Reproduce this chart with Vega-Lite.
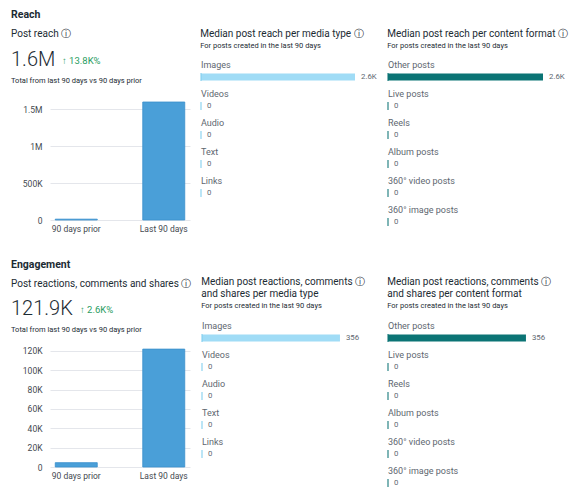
{
  "$schema": "https://vega.github.io/schema/vega-lite/v6.json",
  "background": "white",
  "padding": {"left": 11, "top": 10, "right": 2, "bottom": 2},
  "config": {
    "font": "Roboto",
    "view": {"stroke": null},
    "title": {"anchor": "start", "color": "#1c2b33", "fontWeight": "normal", "frame": "bounds"},
    "axis": {"ticks": false, "domain": false, "labelColor": "#444950", "labelFontSize": 8.5, "gridColor": "#e4e6eb"}
  },
  "datasets": {
    "reach_total": [
      {"period": "90 days prior", "reach": 11500},
      {"period": "Last 90 days", "reach": 1600000}
    ],
    "reach_kpi": [{"total": "1.6M", "change": "↑ 13.8K%"}],
    "reach_media": [
      {"type": "Images", "value": 2600, "label": "2.6K"},
      {"type": "Videos", "value": 0, "label": "0"},
      {"type": "Audio", "value": 0, "label": "0"},
      {"type": "Text", "value": 0, "label": "0"},
      {"type": "Links", "value": 0, "label": "0"}
    ],
    "reach_format": [
      {"format": "Other posts", "value": 2600, "label": "2.6K"},
      {"format": "Live posts", "value": 0, "label": "0"},
      {"format": "Reels", "value": 0, "label": "0"},
      {"format": "Album posts", "value": 0, "label": "0"},
      {"format": "360° video posts", "value": 0, "label": "0"},
      {"format": "360° image posts", "value": 0, "label": "0"}
    ],
    "eng_total": [
      {"period": "90 days prior", "engagement": 4500},
      {"period": "Last 90 days", "engagement": 121900}
    ],
    "eng_kpi": [{"total": "121.9K", "change": "↑ 2.6K%"}],
    "eng_media": [
      {"type": "Images", "value": 356, "label": "356"},
      {"type": "Videos", "value": 0, "label": "0"},
      {"type": "Audio", "value": 0, "label": "0"},
      {"type": "Text", "value": 0, "label": "0"},
      {"type": "Links", "value": 0, "label": "0"}
    ],
    "eng_format": [
      {"format": "Other posts", "value": 356, "label": "356"},
      {"format": "Live posts", "value": 0, "label": "0"},
      {"format": "Reels", "value": 0, "label": "0"},
      {"format": "Album posts", "value": 0, "label": "0"},
      {"format": "360° video posts", "value": 0, "label": "0"},
      {"format": "360° image posts", "value": 0, "label": "0"}
    ]
  },
  "spacing": 26,
  "vconcat": [
    {
      "title": {"text": "Reach", "fontWeight": "bold", "fontSize": 10.5, "offset": 8},
      "spacing": 10,
      "hconcat": [
        {
          "title": {"text": "Post reach ⓘ", "fontSize": 10, "offset": 9},
          "spacing": 5,
          "vconcat": [
            {
              "width": 140, "height": 24,
              "data": {"name": "reach_kpi"},
              "layer": [
                {"mark": {"type": "text", "align": "left", "baseline": "middle", "fontSize": 20, "fontWeight": 300, "color": "#1c2b33", "dx": -39},
                 "encoding": {"x": {"value": 0}, "text": {"field": "total"}}},
                {"mark": {"type": "text", "align": "left", "baseline": "middle", "fontSize": 9.5, "color": "#2a9d62", "dx": 12, "dy": 1},
                 "encoding": {"x": {"value": 0}, "text": {"field": "change"}}}
              ]
            },
            {
              "width": 140, "height": 118,
              "data": {"name": "reach_total"},
              "title": {"text": "Total from last 90 days vs 90 days prior", "fontSize": 7.5, "offset": 17},
              "mark": {"type": "bar", "color": "#4a9fd8", "stroke": "#3a8fcb", "strokeWidth": 0.8},
              "encoding": {
                "x": {"field": "period", "type": "nominal", "sort": null,
                      "scale": {"paddingInner": 0.52, "paddingOuter": 0.06},
                      "axis": {"title": null, "labelAngle": 0, "labelPadding": 4}},
                "y": {"field": "reach", "type": "quantitative",
                      "scale": {"domain": [0, 1600000], "nice": false},
                      "axis": {"title": null, "values": [0, 500000, 1000000, 1500000],
                               "labelExpr": "replace(format(datum.value,'~s'),'k','K')",
                               "labelPadding": 8, "minExtent": 39}}
              }
            }
          ]
        },
        {
          "width": 154, "height": {"step": 29},
          "data": {"name": "reach_media"},
          "title": {"text": "Median post reach per media type ⓘ", "fontSize": 10,
                    "subtitle": "For posts created in the last 90 days", "subtitleFontSize": 7.5,
                    "subtitleColor": "#1c2b33", "subtitlePadding": 3, "offset": -1},
          "encoding": {"y": {"field": "type", "type": "nominal", "sort": null, "axis": null,
                             "scale": {"paddingInner": 0, "paddingOuter": 0.164, "align": 1}}},
          "layer": [
            {"mark": {"type": "text", "align": "left", "baseline": "middle", "dy": -7, "fontSize": 9, "color": "#606770"},
             "encoding": {"x": {"datum": 0, "axis": null}, "text": {"field": "type"}}},
            {"mark": {"type": "bar", "color": "#a0dcf6", "size": 7, "yOffset": 5},
             "encoding": {"x": {"field": "value", "type": "quantitative", "scale": {"domain": [0, 2600]}, "axis": null}}},
            {"mark": {"type": "tick", "orient": "vertical", "color": "#7fcdee", "thickness": 1.5, "size": 8, "yOffset": 5},
             "encoding": {"x": {"datum": 0, "axis": null}}},
            {"mark": {"type": "text", "align": "left", "baseline": "middle", "dx": 6, "dy": 5, "fontSize": 7.8, "color": "#606770"},
             "encoding": {"x": {"field": "value", "type": "quantitative", "axis": null}, "text": {"field": "label"}}}
          ]
        },
        {
          "width": 155, "height": {"step": 29},
          "data": {"name": "reach_format"},
          "title": {"text": "Median post reach per content format ⓘ", "fontSize": 10,
                    "subtitle": "For posts created in the last 90 days", "subtitleFontSize": 7.5,
                    "subtitleColor": "#1c2b33", "subtitlePadding": 3, "offset": -1},
          "encoding": {"y": {"field": "format", "type": "nominal", "sort": null, "axis": null,
                             "scale": {"paddingInner": 0, "paddingOuter": 0.164, "align": 1}}},
          "layer": [
            {"mark": {"type": "text", "align": "left", "baseline": "middle", "dy": -7, "fontSize": 9, "color": "#606770"},
             "encoding": {"x": {"datum": 0, "axis": null}, "text": {"field": "format"}}},
            {"mark": {"type": "bar", "color": "#0b7475", "size": 7, "yOffset": 5},
             "encoding": {"x": {"field": "value", "type": "quantitative", "scale": {"domain": [0, 2600]}, "axis": null}}},
            {"mark": {"type": "tick", "orient": "vertical", "color": "#0b7475", "thickness": 1.5, "size": 8, "yOffset": 5},
             "encoding": {"x": {"datum": 0, "axis": null}}},
            {"mark": {"type": "text", "align": "left", "baseline": "middle", "dx": 6, "dy": 5, "fontSize": 7.8, "color": "#606770"},
             "encoding": {"x": {"field": "value", "type": "quantitative", "axis": null}, "text": {"field": "label"}}}
          ]
        }
      ]
    },
    {
      "title": {"text": "Engagement", "fontWeight": "bold", "fontSize": 10.5, "offset": 7},
      "spacing": 9,
      "hconcat": [
        {
          "title": {"text": "Post reactions, comments and shares ⓘ", "fontSize": 10, "offset": 8},
          "spacing": 5,
          "vconcat": [
            {
              "width": 140, "height": 24,
              "data": {"name": "eng_kpi"},
              "layer": [
                {"mark": {"type": "text", "align": "left", "baseline": "middle", "fontSize": 20, "fontWeight": 300, "color": "#1c2b33", "dx": -39},
                 "encoding": {"x": {"value": 0}, "text": {"field": "total"}}},
                {"mark": {"type": "text", "align": "left", "baseline": "middle", "fontSize": 9.5, "color": "#2a9d62", "dx": 30, "dy": 1},
                 "encoding": {"x": {"value": 0}, "text": {"field": "change"}}}
              ]
            },
            {
              "width": 140, "height": 118,
              "data": {"name": "eng_total"},
              "title": {"text": "Total from last 90 days vs 90 days prior", "fontSize": 7.5, "offset": 13},
              "mark": {"type": "bar", "color": "#4a9fd8", "stroke": "#3a8fcb", "strokeWidth": 0.8},
              "encoding": {
                "x": {"field": "period", "type": "nominal", "sort": null,
                      "scale": {"paddingInner": 0.52, "paddingOuter": 0.06},
                      "axis": {"title": null, "labelAngle": 0, "labelPadding": 4}},
                "y": {"field": "engagement", "type": "quantitative",
                      "scale": {"domain": [0, 122000], "nice": false},
                      "axis": {"title": null, "values": [0, 20000, 40000, 60000, 80000, 100000, 120000],
                               "labelExpr": "replace(format(datum.value,'~s'),'k','K')",
                               "labelPadding": 8, "minExtent": 39}}
              }
            }
          ]
        },
        {
          "width": 155, "height": {"step": 29},
          "data": {"name": "eng_media"},
          "title": {"text": ["Median post reactions, comments      ⓘ", "and shares per media type"], "fontSize": 10, "lineHeight": 11.5,
                    "subtitle": "For posts created in the last 90 days", "subtitleFontSize": 7.5,
                    "subtitleColor": "#1c2b33", "subtitlePadding": 3, "offset": -12},
          "encoding": {"y": {"field": "type", "type": "nominal", "sort": null, "axis": null,
                             "scale": {"paddingInner": 0, "paddingOuter": 0.37, "align": 1}}},
          "layer": [
            {"mark": {"type": "text", "align": "left", "baseline": "middle", "dy": -7, "fontSize": 9, "color": "#606770"},
             "encoding": {"x": {"datum": 0, "axis": null}, "text": {"field": "type"}}},
            {"mark": {"type": "bar", "color": "#a0dcf6", "size": 7, "yOffset": 5},
             "encoding": {"x": {"field": "value", "type": "quantitative", "scale": {"domain": [0, 356]}, "axis": null}}},
            {"mark": {"type": "tick", "orient": "vertical", "color": "#7fcdee", "thickness": 1.5, "size": 8, "yOffset": 5},
             "encoding": {"x": {"datum": 0, "axis": null}}},
            {"mark": {"type": "text", "align": "left", "baseline": "middle", "dx": 6, "dy": 5, "fontSize": 7.8, "color": "#606770"},
             "encoding": {"x": {"field": "value", "type": "quantitative", "axis": null}, "text": {"field": "label"}}}
          ]
        },
        {
          "width": 155, "height": {"step": 29},
          "data": {"name": "eng_format"},
          "title": {"text": ["Median post reactions, comments                 ⓘ", "and shares per content format"], "fontSize": 10, "lineHeight": 11.5,
                    "subtitle": "For posts created in the last 90 days", "subtitleFontSize": 7.5,
                    "subtitleColor": "#1c2b33", "subtitlePadding": 3, "offset": -12},
          "encoding": {"y": {"field": "format", "type": "nominal", "sort": null, "axis": null,
                             "scale": {"paddingInner": 0, "paddingOuter": 0.37, "align": 1}}},
          "layer": [
            {"mark": {"type": "text", "align": "left", "baseline": "middle", "dy": -7, "fontSize": 9, "color": "#606770"},
             "encoding": {"x": {"datum": 0, "axis": null}, "text": {"field": "format"}}},
            {"mark": {"type": "bar", "color": "#0b7475", "size": 7, "yOffset": 5},
             "encoding": {"x": {"field": "value", "type": "quantitative", "scale": {"domain": [0, 356]}, "axis": null}}},
            {"mark": {"type": "tick", "orient": "vertical", "color": "#0b7475", "thickness": 1.5, "size": 8, "yOffset": 5},
             "encoding": {"x": {"datum": 0, "axis": null}}},
            {"mark": {"type": "text", "align": "left", "baseline": "middle", "dx": 6, "dy": 5, "fontSize": 7.8, "color": "#606770"},
             "encoding": {"x": {"field": "value", "type": "quantitative", "axis": null}, "text": {"field": "label"}}}
          ]
        }
      ]
    }
  ]
}
